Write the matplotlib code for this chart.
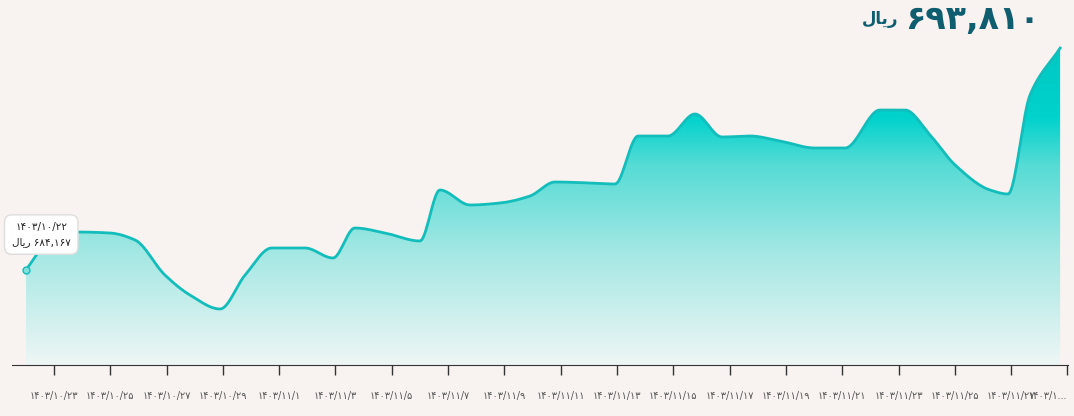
import numpy as np
import matplotlib.pyplot as plt
from matplotlib.colors import LinearSegmentedColormap

# days counted from 1403/10/22 (day 0); Dey has 30 days
days = [0, 0.86, 1.75, 2.99, 3.88, 4.94, 5.83, 6.9, 7.79, 8.74, 9.92, 10.91, 11.69, 12.76,
        14.0, 14.71, 15.78, 16.84, 17.91, 18.8, 20.04, 20.93, 21.75, 22.81, 23.77, 24.73,
        25.72, 26.79, 28.03, 29.1, 30.34, 31.23, 32.12, 33.01, 34.25, 34.89, 35.67, 36.74]
prices = [684167, 685470, 685818, 685774, 685470, 683950, 683081, 682473, 683950, 685123,
          685123, 684688, 685991, 685774, 685427, 687642, 686991, 687077, 687382, 687990,
          687947, 687903, 689988, 689988, 690944, 689945, 689988, 689771, 689467, 689467,
          691117, 691117, 690031, 688728, 687642, 687468, 691769, 693810]

fa = str.maketrans("0123456789", "۰۱۲۳۴۵۶۷۸۹")
tick_days = list(range(1, 38, 2))
tick_labels = []
for d in tick_days:
    m, dd = (10, 22 + d) if 22 + d <= 30 else (11, 22 + d - 30)
    tick_labels.append(f"1403/{m}/{dd}".translate(fa))
tick_labels[-1] = "۱۴۰۳/۱..."

rial = "\uFEDD\uFE8E\uFBFE\uFEAD"  # ریال, shaped for LTR drawing


def pchip(x, y, xs):
    x = np.asarray(x, float); y = np.asarray(y, float)
    h = np.diff(x); dlt = np.diff(y) / h
    m = np.zeros_like(y)
    for k in range(1, len(x) - 1):
        if dlt[k - 1] * dlt[k] > 0:
            w1 = 2 * h[k] + h[k - 1]; w2 = h[k] + 2 * h[k - 1]
            m[k] = (w1 + w2) / (w1 / dlt[k - 1] + w2 / dlt[k])
    m[0] = dlt[0]; m[-1] = dlt[-1]
    i = np.clip(np.searchsorted(x, xs) - 1, 0, len(x) - 2)
    t = (xs - x[i]) / h[i]
    return ((2*t**3 - 3*t**2 + 1) * y[i] + (t**3 - 2*t**2 + t) * h[i] * m[i]
            + (-2*t**3 + 3*t**2) * y[i+1] + (t**3 - t**2) * h[i] * m[i+1])


bg = "#f8f3f0"
fig = plt.figure(figsize=(10.74, 4.16), dpi=100, facecolor=bg)
ax = fig.add_axes([12/1074, 51/416, 1056/1074, 365/416])
ax.set_facecolor(bg)

ymin, ymax = 680040, 695896
xs = np.linspace(days[0], days[-1], 800)
ys = pchip(days, prices, xs)

cmap = LinearSegmentedColormap.from_list(
    "g", [(0, "#eef6f5"), (0.3, "#a6e8e4"), (0.55, "#55dbd5"), (0.68, "#00d2cc"), (1, "#00c0bb")])
grad = np.linspace(0, 1, 256).reshape(-1, 1)
img = ax.imshow(grad, cmap=cmap, aspect="auto", origin="lower",
                extent=[days[0], days[-1], ymin, ymax], zorder=1)
poly = ax.fill_between(xs, ys, ymin, color="none")
img.set_clip_path(poly.get_paths()[0], transform=ax.transData)
ax.plot(xs, ys, color="#13bdbb", lw=2, zorder=3)
ax.plot(days[0], prices[0], "o", color="#7fe0dc", ms=5, mec="#13bdbb", zorder=4)

ax.set_xlim(-0.49, 37.02)
ax.set_ylim(ymin, ymax)
ax.set_yticks([])
for s in ["top", "right", "left"]:
    ax.spines[s].set_visible(False)
ax.spines["bottom"].set_color("#333333")
ax.set_xticks(tick_days)
ax.set_xticklabels(tick_labels, fontsize=7, color="#555555")
ax.get_xticklabels()[-1].set_horizontalalignment("right")
ax.tick_params(axis="x", length=7, width=1, color="#333333", pad=12)

ax.annotate("1403/10/22".translate(fa) + "\n" + rial + " " + "684,167".translate(fa),
            xy=(days[0], prices[0]), xytext=(days[0] + 0.55, prices[0] + 1000),
            fontsize=7.5, ha="center", va="bottom", color="#222222", linespacing=1.6,
            arrowprops=dict(arrowstyle="-", color="white", lw=0),
            bbox=dict(boxstyle="round,pad=0.7", fc="white", ec="#dddddd"), zorder=5)

fig.text(1040/1074, 1 - 20/416, "693,810".translate(fa), fontsize=24, fontweight="bold",
         color="#0e5e6f", ha="right", va="center")
fig.text(898/1074, 1 - 19/416, rial, fontsize=12, fontweight="bold",
         color="#0e5e6f", ha="right", va="center")

fig.savefig("out.png", dpi=100, facecolor=bg)
